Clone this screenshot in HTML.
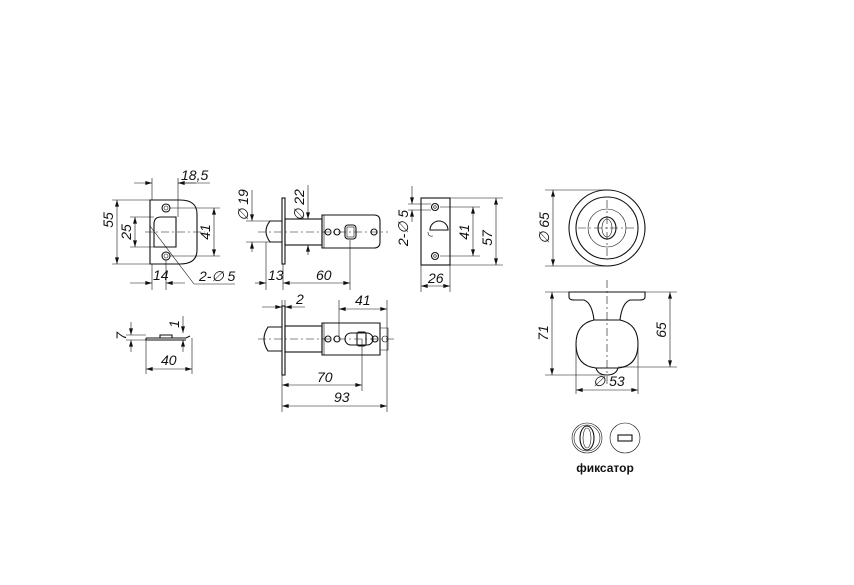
<!DOCTYPE html>
<html><head><meta charset="utf-8"><style>
html,body{margin:0;padding:0;background:#fff}
svg{display:block}
text{font-family:"Liberation Sans",sans-serif;font-style:italic;font-size:14px;fill:#111}
.s{stroke:#111;fill:none;stroke-width:1.1}
.t{stroke:#111;fill:none;stroke-width:0.6}
.c{stroke:#111;fill:none;stroke-width:0.6;stroke-dasharray:8 3 2 3}
</style></head><body>
<svg width="854" height="585" viewBox="0 0 854 585">
<defs><marker id="a" viewBox="0 0 10 6" refX="10" refY="3" markerWidth="9" markerHeight="4" orient="auto-start-reverse" markerUnits="userSpaceOnUse"><path d="M0,0L10,3L0,6z" fill="#111"/></marker></defs>

<!-- Strike plate front -->
<path class="s" d="M150,200 H180 Q197,200 197,214 V250 Q197,264 180,264 H150 Z"/>
<path class="s" d="M154,247 V224 Q154,217 161,217 H176 V247 Z"/>
<circle class="s" cx="166" cy="208" r="4"/><circle class="t" cx="166" cy="208" r="2"/>
<circle class="s" cx="166" cy="256" r="4"/><circle class="t" cx="166" cy="256" r="2"/>
<line class="c" x1="145" y1="232" x2="205" y2="232"/>
<line class="t" x1="112" y1="200" x2="150" y2="200"/><line class="t" x1="112" y1="264" x2="150" y2="264"/>
<line class="t" x1="117" y1="200" x2="117" y2="264" marker-start="url(#a)" marker-end="url(#a)"/>
<text transform="translate(113,220) rotate(-90)" text-anchor="middle">55</text>
<line class="t" x1="130" y1="217" x2="154" y2="217"/><line class="t" x1="130" y1="247" x2="154" y2="247"/>
<line class="t" x1="135" y1="217" x2="135" y2="247" marker-start="url(#a)" marker-end="url(#a)"/>
<text transform="translate(131,232) rotate(-90)" text-anchor="middle">25</text>
<line class="t" x1="170" y1="208" x2="220" y2="208"/><line class="t" x1="170" y1="256" x2="220" y2="256"/>
<line class="t" x1="214" y1="208" x2="214" y2="256" marker-start="url(#a)" marker-end="url(#a)"/>
<text transform="translate(210,232) rotate(-90)" text-anchor="middle">41</text>
<line class="t" x1="152" y1="178" x2="152" y2="200"/><line class="t" x1="178" y1="178" x2="178" y2="217"/>
<line class="t" x1="134" y1="183" x2="152" y2="183" marker-end="url(#a)"/>
<line class="t" x1="178" y1="183" x2="210" y2="183"/>
<line class="t" x1="196" y1="183" x2="178" y2="183" marker-end="url(#a)"/>
<text x="181" y="180">18,5</text>
<line class="t" x1="152" y1="264" x2="152" y2="290"/><line class="t" x1="166" y1="260" x2="166" y2="290"/>
<line class="t" x1="130" y1="283" x2="152" y2="283" marker-end="url(#a)"/>
<line class="t" x1="185" y1="283" x2="166" y2="283" marker-end="url(#a)"/>
<text x="153" y="280">14</text>
<polyline class="t" points="150,226 194,284 235,284"/>
<text x="199" y="281">2-∅ 5</text>

<!-- Latch side view -->
<rect class="s" x="282" y="198" width="3" height="66"/>
<path class="s" d="M282,221 H270 Q262,231 270,242 H282"/>
<rect class="s" x="285" y="219" width="37" height="26"/>
<path class="s" d="M322,215 H374 Q380,215 380,221 V242 Q380,248 374,248 H322 Z"/>
<line class="t" x1="324" y1="215" x2="324" y2="248"/>
<circle class="s" cx="328" cy="232" r="3"/><circle class="s" cx="337" cy="232" r="3"/>
<rect class="s" x="345" y="225" width="11" height="14" rx="3"/><rect class="t" x="347" y="227" width="7" height="10"/>
<circle class="s" cx="374" cy="232" r="3"/>
<line class="c" x1="258" y1="232" x2="388" y2="232"/>
<line class="t" x1="246" y1="221" x2="272" y2="221"/><line class="t" x1="246" y1="242" x2="272" y2="242"/>
<line class="t" x1="252" y1="190" x2="252" y2="221" marker-end="url(#a)"/>
<line class="t" x1="252" y1="252" x2="252" y2="242" marker-end="url(#a)"/>
<text transform="translate(248,205) rotate(-90)" text-anchor="middle">∅ 19</text>
<line class="t" x1="308" y1="185" x2="308" y2="219" marker-end="url(#a)"/>
<line class="t" x1="308" y1="255" x2="308" y2="245" marker-end="url(#a)"/>
<text transform="translate(304,205) rotate(-90)" text-anchor="middle">∅ 22</text>
<line class="t" x1="266" y1="242" x2="266" y2="290"/><line class="t" x1="283" y1="264" x2="283" y2="290"/>
<line class="t" x1="350" y1="240" x2="350" y2="290"/>
<line class="t" x1="255" y1="283" x2="266" y2="283" marker-end="url(#a)"/>
<line class="t" x1="283" y1="283" x2="350" y2="283" marker-start="url(#a)" marker-end="url(#a)"/>
<text x="268" y="280">13</text><text x="316" y="280">60</text>

<!-- Backset plate -->
<rect class="s" x="421" y="198" width="29" height="67"/>
<circle class="s" cx="435" cy="207" r="3.5"/><circle class="t" cx="435" cy="207" r="1.3"/>
<circle class="s" cx="435" cy="256" r="3.5"/><circle class="t" cx="435" cy="256" r="1.3"/>
<path class="s" d="M430,230 A9,9 0 0 1 448,230 Z"/><path class="t" d="M428,232 Q428,237 433,236"/>
<line class="t" x1="440" y1="207" x2="480" y2="207"/><line class="t" x1="440" y1="256" x2="480" y2="256"/>
<line class="t" x1="473" y1="207" x2="473" y2="256" marker-start="url(#a)" marker-end="url(#a)"/>
<text transform="translate(469,232) rotate(-90)" text-anchor="middle">41</text>
<line class="t" x1="450" y1="198" x2="503" y2="198"/><line class="t" x1="450" y1="265" x2="503" y2="265"/>
<line class="t" x1="496" y1="198" x2="496" y2="265" marker-start="url(#a)" marker-end="url(#a)"/>
<text transform="translate(492,238) rotate(-90)" text-anchor="middle">57</text>
<line class="t" x1="408" y1="204" x2="431" y2="204"/><line class="t" x1="408" y1="210" x2="431" y2="210"/>
<line class="t" x1="412" y1="186" x2="412" y2="204" marker-end="url(#a)"/>
<line class="t" x1="412" y1="222" x2="412" y2="210" marker-end="url(#a)"/>
<text transform="translate(408,228) rotate(-90)" text-anchor="middle">2-∅ 5</text>
<line class="t" x1="421" y1="265" x2="421" y2="292"/><line class="t" x1="450" y1="265" x2="450" y2="292"/>
<line class="t" x1="421" y1="286" x2="450" y2="286" marker-start="url(#a)" marker-end="url(#a)"/>
<text x="428" y="283">26</text>

<!-- Rose top -->
<circle class="s" cx="607" cy="228" r="38"/><circle class="s" cx="607" cy="228" r="31"/>
<circle class="t" cx="607" cy="228" r="19"/>
<ellipse class="s" cx="607" cy="228" rx="9" ry="11"/><ellipse class="t" cx="607" cy="228" rx="5" ry="9"/>
<line class="c" x1="578" y1="228" x2="636" y2="228"/><line class="c" x1="607" y1="200" x2="607" y2="256"/>
<line class="t" x1="545" y1="190" x2="607" y2="190"/><line class="t" x1="545" y1="266" x2="607" y2="266"/>
<line class="t" x1="553" y1="190" x2="553" y2="266" marker-start="url(#a)" marker-end="url(#a)"/>
<text transform="translate(549,228) rotate(-90)" text-anchor="middle">∅ 65</text>

<!-- Knob side -->
<path class="s" d="M569,292 H645 V297 Q645,300 640,300 H630 Q622,303 620,320 H594 Q592,303 584,300 H574 Q569,300 569,297 Z"/>
<path class="s" d="M594,320 Q576,324 576,344 Q576,366 596,368 H618 Q638,366 638,344 Q638,324 620,320 Z"/>
<path class="s" d="M596,368 Q598,375 607,375 Q616,375 618,368"/>
<line class="c" x1="607" y1="280" x2="607" y2="386"/>
<line class="t" x1="545" y1="292" x2="569" y2="292"/><line class="t" x1="545" y1="375" x2="605" y2="375"/>
<line class="t" x1="552" y1="292" x2="552" y2="375" marker-start="url(#a)" marker-end="url(#a)"/>
<text transform="translate(548,333) rotate(-90)" text-anchor="middle">71</text>
<line class="t" x1="645" y1="292" x2="677" y2="292"/><line class="t" x1="618" y1="367" x2="677" y2="367"/>
<line class="t" x1="670" y1="292" x2="670" y2="367" marker-start="url(#a)" marker-end="url(#a)"/>
<text transform="translate(666,330) rotate(-90)" text-anchor="middle">65</text>
<line class="t" x1="576" y1="344" x2="576" y2="394"/><line class="t" x1="638" y1="344" x2="638" y2="394"/>
<line class="t" x1="576" y1="390" x2="638" y2="390" marker-start="url(#a)" marker-end="url(#a)"/>
<text x="593" y="386">∅ 53</text>

<!-- Fixator -->
<circle class="t" cx="587" cy="438" r="15"/><circle class="t" cx="587" cy="438" r="13"/>
<ellipse class="s" cx="587" cy="438" rx="7" ry="12"/><ellipse class="t" cx="587" cy="438" rx="4" ry="10"/>
<circle class="t" cx="625" cy="438" r="15"/>
<rect class="s" x="618" y="435" width="14" height="6"/>
<text x="605" y="472" text-anchor="middle" style="font-style:normal;font-weight:bold;font-size:12px">фиксатор</text>

<!-- Strike side -->
<path class="s" d="M146,338 H186 L190,336 M146,338 V340 H186 M160,338 V335 H172 V338"/>
<line class="t" x1="146" y1="340" x2="146" y2="374"/>
<line class="t" x1="126" y1="335" x2="146" y2="335"/><line class="t" x1="126" y1="340" x2="146" y2="340"/>
<line class="t" x1="131" y1="322" x2="131" y2="335" marker-end="url(#a)"/>
<line class="t" x1="131" y1="352" x2="131" y2="340" marker-end="url(#a)"/>
<text transform="translate(126,336) rotate(-90)" text-anchor="middle">7</text>
<line class="t" x1="183" y1="316" x2="183" y2="333" marker-end="url(#a)"/>
<line class="t" x1="183" y1="352" x2="183" y2="340" marker-end="url(#a)"/>
<text transform="translate(179,324) rotate(-90)" text-anchor="middle">1</text>
<line class="t" x1="192" y1="338" x2="192" y2="374"/>
<line class="t" x1="146" y1="369" x2="192" y2="369" marker-start="url(#a)" marker-end="url(#a)"/>
<text x="161" y="365">40</text>

<!-- Latch top -->
<rect class="s" x="282" y="306" width="3" height="69"/>
<path class="s" d="M282,327 H268 Q260,339 268,351 H282"/>
<rect class="s" x="285" y="326" width="37" height="26"/>
<path class="s" d="M322,323 H380 V355 H322 Z"/>
<path class="t" d="M380,328 H388 V350 H380"/>
<line class="t" x1="324" y1="323" x2="324" y2="355"/>
<circle class="s" cx="328" cy="339" r="3"/><circle class="s" cx="337" cy="339" r="3"/>
<rect class="s" x="345" y="333" width="28" height="12" rx="6"/><rect class="s" x="357" y="332" width="9" height="14" rx="2"/>
<circle class="s" cx="375" cy="339" r="3"/><circle class="t" cx="385" cy="339" r="3"/>
<line class="c" x1="258" y1="339" x2="394" y2="339"/>
<line class="t" x1="282" y1="300" x2="282" y2="412"/><line class="t" x1="285" y1="300" x2="285" y2="306"/>
<line class="t" x1="262" y1="307" x2="282" y2="307" marker-end="url(#a)"/>
<line class="t" x1="305" y1="307" x2="285" y2="307" marker-end="url(#a)"/>
<text x="296" y="304">2</text>
<line class="t" x1="339" y1="300" x2="339" y2="336"/><line class="t" x1="387" y1="300" x2="387" y2="412"/>
<line class="t" x1="339" y1="309" x2="387" y2="309" marker-start="url(#a)" marker-end="url(#a)"/>
<text x="355" y="305">41</text>
<line class="t" x1="362" y1="339" x2="362" y2="391"/>
<line class="t" x1="282" y1="385" x2="362" y2="385" marker-start="url(#a)" marker-end="url(#a)"/>
<text x="317" y="382">70</text>
<line class="t" x1="282" y1="406" x2="387" y2="406" marker-start="url(#a)" marker-end="url(#a)"/>
<text x="334" y="402">93</text>
</svg>
</body></html>
